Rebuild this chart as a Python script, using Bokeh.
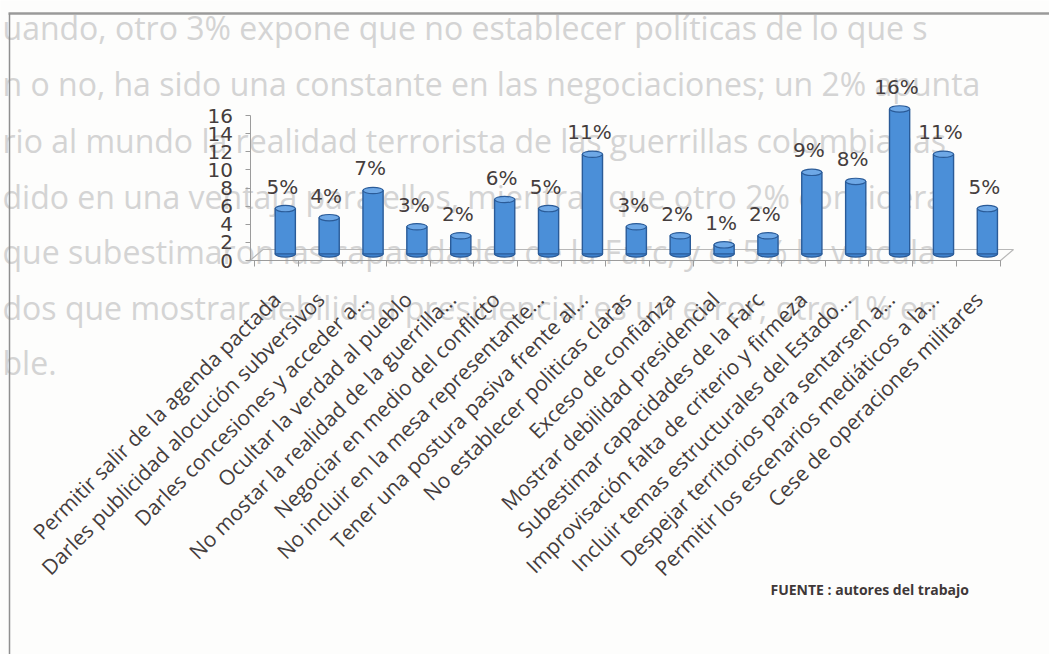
import math
from bokeh.plotting import figure
from bokeh.models import Range1d, LinearAxis, FixedTicker
from bokeh.core.properties import value
from bokeh.embed import file_html
from bokeh.resources import INLINE

# ---------------- data ----------------
categories = [
    "Permitir salir de la agenda pactada",
    "Darles publicidad alocución subversivos",
    "Darles concesiones y acceder a...",
    "Ocultar la verdad al pueblo",
    "No mostar la realidad de la guerrilla...",
    "Negociar en medio del conflicto",
    "No incluir en la mesa representante...",
    "Tener una postura pasiva frente al...",
    "No establecer politicas claras",
    "Exceso de confianza",
    "Mostrar debilidad presidencial",
    "Subestimar capacidades de la Farc",
    "Improvisación falta de criterio y firmeza",
    "Incluir temas estructurales del Estado...",
    "Despejar territorios para sentarsen a...",
    "Permitir los escenarios mediáticos a la...",
    "Cese de operaciones militares",
]
values = [5, 4, 7, 3, 2, 6, 5, 11, 3, 2, 1, 2, 9, 8, 16, 11, 5]
y_ticks = [0, 2, 4, 6, 8, 10, 12, 14, 16]
source_note = "FUENTE : autores del trabajo"
ghost_lines = [
    "uando, otro 3% expone que no establecer políticas de lo que s",
    "n o no, ha sido una constante en las negociaciones; un 2% apunta",
    "rio al mundo la realidad terrorista de las guerrillas colombianas",
    "dido en una ventaja para ellos, mientras que otro 2% considera",
    "que subestimaron las capacidades de la Farc, y el 5% lo vincula",
    "dos que mostrar debilidad presidencial es un error; otro 1% en",
    "ble.",
]

# ---------------- geometry (canvas pixels -> data units) ----------------
W, H = 1049, 654
PX_X0, PX_PER_X = 276.0, 43.88     # x of first category centre, px per category
PX_Y0, PX_PER_Y = 260.0, 9.0625    # y of value 0, px per unit


def dx(px):
    return (px - PX_X0) / PX_PER_X


def dy(py):
    return (PX_Y0 - py) / PX_PER_Y


p = figure(width=W, height=H,
           x_range=Range1d(dx(0), dx(W)), y_range=Range1d(dy(H), dy(0)),
           output_backend="svg", toolbar_location=None, title=None,
           x_axis_type=None, y_axis_type=None, min_border=0,
           outline_line_color=None)
p.background_fill_color = "#fdfdfc"
p.border_fill_color = "#fdfdfc"

# faded document text behind the chart
ghost_y = [27, 83, 140, 196, 251, 307, 362]
p.text(x=[dx(2)] * len(ghost_lines), y=[dy(v) for v in ghost_y], text=ghost_lines,
       text_font=value("Open Sans"), text_font_size="32px",
       text_color="#d4d4d4", text_baseline="middle", text_align="left")

# frame lines
p.segment(x0=[dx(8)], y0=[dy(13)], x1=[dx(1049)], y1=[dy(13)],
          line_color="#9a9a9a", line_width=2.5)
p.segment(x0=[dx(9)], y0=[dy(13)], x1=[dx(9)], y1=[dy(660)],
          line_color="#8f8f8f", line_width=1.5)

# 3D floor
depth_x, depth_y = 13 / PX_PER_X, 11 / PX_PER_Y
x_left, x_right = dx(249.5), len(categories) - 0.5
p.patch(x=[x_left, x_right, x_right + depth_x, x_left + depth_x],
        y=[0, 0, depth_y, depth_y], fill_color=None, line_color="#b8b8b8", line_width=1.2)

# bars
shift = 0.2
floor = depth_y * 0.6
xc = [i + shift for i in range(len(categories))]
tops = [v + floor for v in values]
bar_w = 0.46
p.ellipse(x=xc, y=[floor] * len(xc), width=bar_w, height=0.7,
          fill_color="#3f83cf", line_color="#2a5b98", line_width=1.2)
p.vbar(x=xc, width=bar_w, bottom=floor, top=tops,
       fill_color="#4b8fd8", line_color="#2a5b98", line_width=1.4)
p.ellipse(x=xc, y=tops, width=bar_w, height=0.7,
          fill_color="#6ea8e6", line_color="#2a5b98", line_width=1.2)

# value labels
label_color = "#453d3d"
p.text(x=xc, y=tops, text=[f"{v}%" for v in values], x_offset=-3, y_offset=-10,
       text_align="center", text_baseline="bottom",
       text_font=value("DejaVu Sans"), text_font_size="20px", text_color=label_color)

# axes
xaxis = LinearAxis(fixed_location=0, bounds=(x_left, x_right),
                   ticker=FixedTicker(ticks=list(range(len(categories))),
                                      minor_ticks=[i - 0.5 for i in range(len(categories) + 1)]),
                   major_label_overrides={i: c for i, c in enumerate(categories)},
                   major_label_orientation=math.pi / 4,
                   major_tick_out=0, major_tick_in=0,
                   minor_tick_out=6, minor_tick_in=0,
                   axis_line_color="#9c9c9c", minor_tick_line_color="#9c9c9c",
                   major_label_text_font="Open Sans", major_label_text_font_size="21px",
                   major_label_text_color=label_color, major_label_standoff=29)
p.add_layout(xaxis, "below")

yaxis = LinearAxis(fixed_location=x_left, bounds=(0, 16),
                   ticker=FixedTicker(ticks=y_ticks),
                   major_tick_out=5, major_tick_in=0, minor_tick_out=0, minor_tick_in=0,
                   axis_line_color="#9c9c9c", major_tick_line_color="#9c9c9c",
                   major_label_text_font="DejaVu Sans", major_label_text_font_size="20px",
                   major_label_text_color=label_color, major_label_standoff=12)
p.add_layout(yaxis, "left")

# source note
p.text(x=[dx(770)], y=[dy(589)], text=[source_note],
       text_font=value("Open Sans"), text_font_style="bold", text_font_size="14px",
       text_color="#3f3838", text_baseline="middle", text_align="left")

open("out.html", "w").write(file_html(p, INLINE))
